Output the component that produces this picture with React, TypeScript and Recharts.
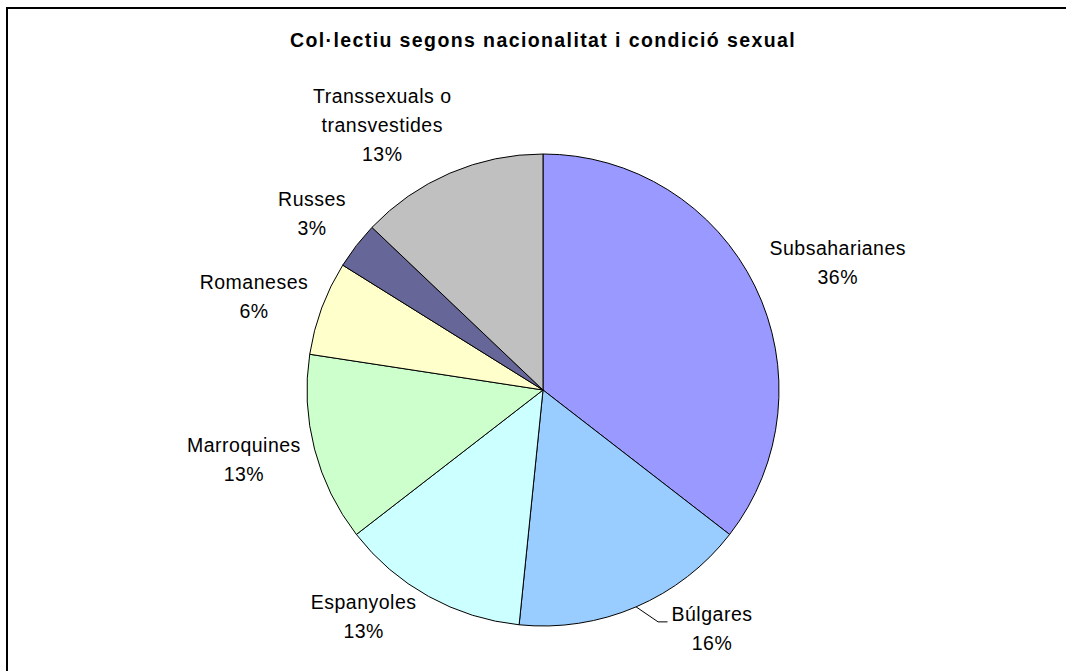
import { PieChart, Pie, Cell } from 'recharts'

const categories = [
  'Subsaharianes',
  'Búlgares',
  'Espanyoles',
  'Marroquines',
  'Romaneses',
  'Russes',
  'Transsexuals o transvestides',
]
const counts = [11, 5, 4, 4, 2, 1, 4]
const percentLabels = ['36%', '16%', '13%', '13%', '6%', '3%', '13%']
const labelLines = [
  ['Subsaharianes'],
  ['Búlgares'],
  ['Espanyoles'],
  ['Marroquines'],
  ['Romaneses'],
  ['Russes'],
  ['Transsexuals o', 'transvestides'],
]
const colors = ['#9999FF', '#99CCFF', '#CCFFFF', '#CCFFCC', '#FFFFCC', '#666699', '#C0C0C0']

// label placement tweaks, like Excel's moved labels:
// angle shift in degrees (counter-clockwise) and gap from the pie edge
const labelNudge = [0, 11, -7, 0, 1, 0, 6]
const labelGap = [24, 24, 16, 16, 16, 22, 24]

const data = categories.map((name, i) => ({ name, value: counts[i] }))

const FONT = '"Liberation Sans", Arial, sans-serif'
const FS = 19.5
const LS = 0.5
const LINE_H = 29
const RADIAN = Math.PI / 180

let ctx: CanvasRenderingContext2D | null = null
const textW = (s: string) => {
  if (!ctx) ctx = document.createElement('canvas').getContext('2d')
  if (!ctx) return s.length * 10.8
  ctx.font = `${FS}px ${FONT}`
  return ctx.measureText(s).width + LS * s.length
}

function SliceLabel(props: any) {
  const { cx, cy, midAngle, outerRadius, index } = props
  const lines = [...labelLines[index], percentLabels[index]]
  const ang = (midAngle + labelNudge[index]) * RADIAN
  const cos = Math.cos(-ang)
  const sin = Math.sin(-ang)
  const ax = cx + (outerRadius + labelGap[index]) * cos
  const ay = cy + (outerRadius + labelGap[index]) * sin
  const w = Math.max(...lines.map(textW))
  const h = lines.length * LINE_H
  const bx = ax + (cos * w) / 2
  const by = ay + (sin * h) / 2
  const top = by - h / 2
  let leader = null
  if (labelNudge[index] > 8) {
    const mc = Math.cos(-midAngle * RADIAN)
    const ms = Math.sin(-midAngle * RADIAN)
    const ex = cx + outerRadius * mc
    const ey = cy + outerRadius * ms
    const kx = ex + 22
    const ky = ey + 15
    leader = <polyline points={`${ex},${ey} ${kx},${ky} ${bx - w / 2 - 4},${ky}`} fill="none" stroke="#000" strokeWidth={1} />
  }
  return (
    <g>
      {leader}
      <text fontFamily={FONT} fontSize={FS} letterSpacing={LS} fill="#000" textAnchor="middle">
        {lines.map((l, k) => (
          <tspan key={k} x={bx} y={top + LINE_H * k + 21}>
            {l}
          </tspan>
        ))}
      </text>
    </g>
  )
}

export default function App() {
  return (
    <div style={{ position: 'absolute', left: 0, top: 0, width: 1066, height: 671, background: '#fff', overflow: 'hidden' }}>
      <div
        style={{
          position: 'absolute',
          left: 6,
          top: 7,
          width: 1080,
          height: 700,
          borderLeft: '2px solid #000',
          borderTop: '2px solid #000',
        }}
      />
      <div
        style={{
          position: 'absolute',
          left: 0,
          top: 29,
          width: 1086,
          textAlign: 'center',
          fontFamily: FONT,
          fontWeight: 'bold',
          fontSize: 19.5,
          letterSpacing: 1.4,
          color: '#000',
        }}
      >
        Col·lectiu segons nacionalitat i condició sexual
      </div>
      <div style={{ position: 'absolute', left: 0, top: 0 }}>
        <PieChart width={1066} height={671} margin={{ top: 0, right: 0, bottom: 0, left: 0 }}>
          <Pie
            data={data}
            dataKey="value"
            nameKey="name"
            cx={543}
            cy={390}
            outerRadius={236}
            startAngle={90}
            endAngle={-270}
            stroke="#000"
            strokeWidth={1}
            label={SliceLabel}
            labelLine={false}
            isAnimationActive={false}
          >
            {data.map((d, i) => (
              <Cell key={d.name} fill={colors[i]} />
            ))}
          </Pie>
        </PieChart>
      </div>
    </div>
  )
}
